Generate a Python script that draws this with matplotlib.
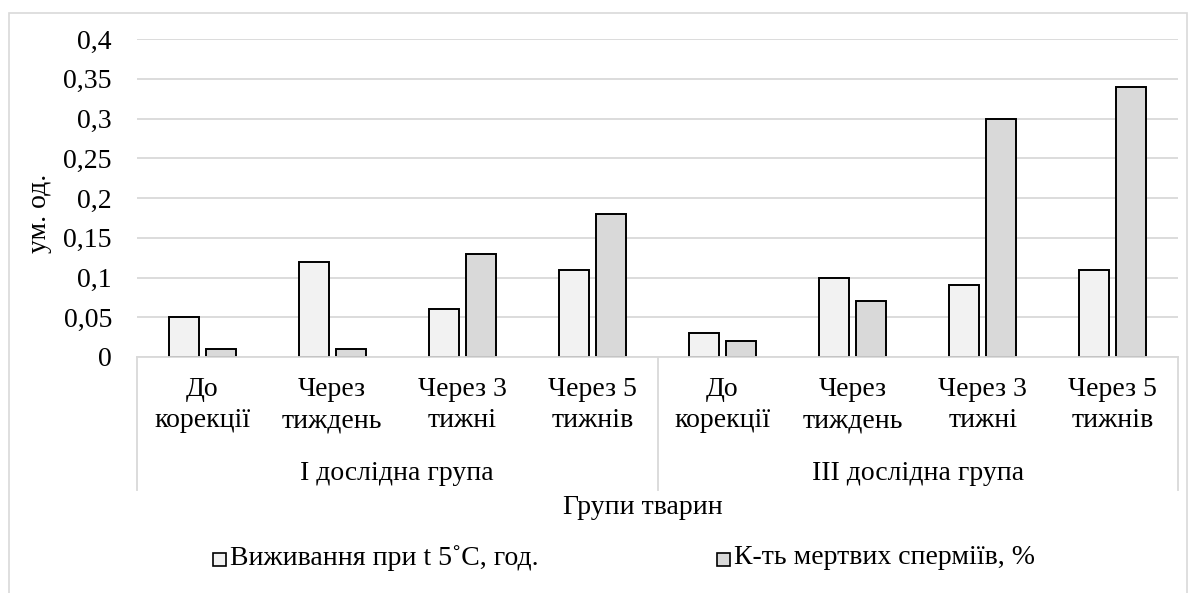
import matplotlib
matplotlib.use("Agg")
import matplotlib.pyplot as plt
import matplotlib.transforms as mtrans
from matplotlib.patches import Rectangle
from matplotlib.lines import Line2D
from matplotlib.ticker import FuncFormatter

# --- data ---
categories = ["До\nкорекції", "Через\nтиждень", "Через 3\nтижні", "Через 5\nтижнів",
              "До\nкорекції", "Через\nтиждень", "Через 3\nтижні", "Через 5\nтижнів"]
groups = ["І дослідна група", "ІІІ дослідна група"]
survival = [0.05, 0.12, 0.06, 0.11, 0.03, 0.10, 0.09, 0.11]
dead_sperm = [0.01, 0.01, 0.13, 0.18, 0.02, 0.07, 0.30, 0.34]
series_names = ["Виживання при t 5˚С, год.", "К-ть мертвих сперміїв, %"]
y_ticks = [0, 0.05, 0.1, 0.15, 0.2, 0.25, 0.3, 0.35, 0.4]

W, H = 1195, 593
FS = 20
GRID = "#d9d9d9"
C1, C2 = "#f2f2f2", "#d9d9d9"

plt.rcParams["font.family"] = "serif"
plt.rcParams["font.serif"] = ["Liberation Serif", "Times New Roman", "DejaVu Serif"]

fig = plt.figure(figsize=(W / 100, H / 100), dpi=100)


def fx(x):
    return x / W


def fy(y):
    return 1 - y / H


# outer chart frame
fig.patches.append(Rectangle((fx(9), fy(700)), fx(1178), (700 - 13) / H,
                             transform=fig.transFigure, fill=False,
                             edgecolor=GRID, lw=1.2))

left, right, top, bottom = 137, 1178, 39, 357
ax = fig.add_axes([fx(left), fy(bottom), (right - left) / W, (bottom - top) / H])

n = len(categories)
xs = list(range(n))
bw = 0.23
off = 0.142
ax.bar([x - off for x in xs], survival, width=bw, color=C1, edgecolor="black",
       linewidth=1.4, zorder=3, label=series_names[0])
ax.bar([x + off for x in xs], dead_sperm, width=bw, color=C2, edgecolor="black",
       linewidth=1.4, zorder=3, label=series_names[1])

ax.set_xlim(-0.5, n - 0.5)
ax.set_ylim(0, 0.4)
ax.set_yticks(y_ticks)
ax.yaxis.set_major_formatter(FuncFormatter(lambda v, p: ("%g" % v).replace(".", ",")))
ax.tick_params(axis="y", length=0, pad=18, labelsize=FS)
ax.set_xticks([])
ax.grid(axis="y", color=GRID, lw=1.3, zorder=0)
for s in ["left", "right", "top"]:
    ax.spines[s].set_visible(False)
ax.spines["bottom"].set_color(GRID)
ax.spines["bottom"].set_linewidth(1.3)
ax.spines["bottom"].set_zorder(4)

tr = mtrans.blended_transform_factory(ax.transData, fig.transFigure)

# category axis: labels, group labels and separators
for x, lab in zip(xs, categories):
    ax.text(x, fy(405), lab, transform=tr, ha="center", va="center",
            fontsize=FS, linespacing=1.32)
for gi, g in enumerate(groups):
    ax.text(gi * 4 + 1.5, fy(474), g, transform=tr, ha="center", va="center", fontsize=FS)
for xv in [-0.5, 3.5, n - 0.5]:
    ax.add_line(Line2D([xv, xv], [fy(357), fy(490)], transform=tr, color=GRID,
                       lw=1.3, clip_on=False))

fig.text(fx(643), fy(508), "Групи тварин", ha="center", va="center", fontsize=FS)
fig.text(fx(40), fy(213), "ум. од.", ha="center", va="center", rotation=90, fontsize=FS)

# legend
for mx, col, name in [(213, C1, series_names[0]), (717, C2, series_names[1])]:
    fig.patches.append(Rectangle((fx(mx), fy(566)), 13 / W, 13 / H,
                                 transform=fig.transFigure, facecolor=col,
                                 edgecolor="black", lw=1.2))
    fig.text(fx(mx + 17), fy(558), name, ha="left", va="center", fontsize=FS)

fig.savefig("out.png", dpi=100)
